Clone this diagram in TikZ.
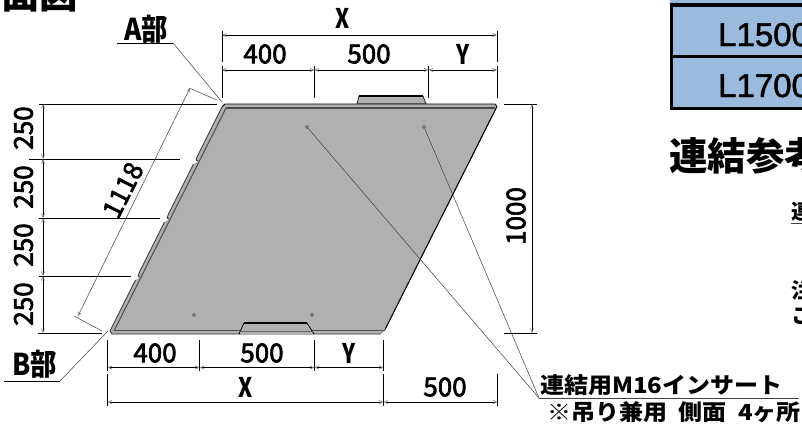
\documentclass[tikz,border=0pt]{standalone}
\usepackage{fontspec}
\usetikzlibrary{arrows.meta}
\setmainfont{Liberation Sans}
\newfontfamily\jp{Noto Sans CJK JP}
\newfontfamily\jpm{Noto Sans CJK JP}[FakeBold=2.5]
\newfontfamily\cellf{Liberation Sans}[FakeBold=1.5]
\definecolor{plate}{HTML}{B0B0B0}
\definecolor{cellblue}{HTML}{9ABBDD}
\definecolor{leaderc}{HTML}{404040}
\tikzset{
  dimline/.style={line width=0.75pt,black,{Straight Barb[length=3.5pt,width=3pt,color=gray]}-{Straight Barb[length=3.5pt,width=3pt,color=gray]}},
  extline/.style={line width=0.75pt,black},
  leader/.style={line width=0.5pt,leaderc},
  dimtext/.style={font=\jpm\fontsize{26}{26}\selectfont,inner sep=0pt},
  lettertext/.style={font=\jp\bfseries\fontsize{27}{27}\selectfont,inner sep=0pt,xscale=0.8},
  parttext/.style={font=\jp\bfseries\fontsize{30}{30}\selectfont,inner sep=0pt,xscale=0.88},
  callout/.style={font=\jp\bfseries\fontsize{24}{24}\selectfont,inner sep=0pt,anchor=base west,yscale=0.92},
  heading/.style={font=\jp\bfseries\fontsize{38.5}{38.5}\selectfont,inner sep=0pt,anchor=base west},
  cuttext/.style={font=\jp\bfseries\fontsize{21}{21}\selectfont,inner sep=0pt,anchor=base west},
  celltext/.style={font=\cellf\fontsize{33}{33}\selectfont,inner sep=0pt,anchor=base west},
  hole/.style={circle,draw=leaderc,fill=plate,line width=0.4pt,inner sep=0pt,minimum size=3pt}
}
\begin{document}
\begin{tikzpicture}[x=1pt,y=-1pt]
\clip (0,0) rectangle (802,428);
% table
\fill[cellblue] (670,0) rectangle (802,108);
\draw[line width=3.3pt,black] (802,5) -- (671.6,5) -- (671.6,108.3) -- (802,108.3);
\draw[line width=3.3pt,black] (671.6,56.7) -- (802,56.7);
\node[celltext] (l15) at (718,46) {L1500};
\node[celltext] (l17) at (718,97) {L1700};
% headings
\node[heading] (ttl) at (1,9) {面図};
\node[heading] (ref) at (669,170) {連結参考};
\node[cuttext] (c1) at (791,219) {連};
\draw[line width=0.6pt,leaderc] (791,223) -- (802,223);
\node[cuttext] (c2) at (791,298) {注};
\node[cuttext] (c3) at (791,323) {こ};
% plate
\draw[fill=plate,line width=0.8pt,draw=black!85] (359,96) -- (423,96) -- (426,104) -- (357,104) -- cycle;
\draw[line width=1.4pt] (359,96) -- (423,96);
\fill[plate] (225,104) -- (495,104) -- (497,106.5) -- (385,329.5) -- (380,334) -- (112,334) -- (110,331) -- (135.5,280) -- (140,277) -- (138,276) -- (139.5,272) -- (164.5,222) -- (169,219) -- (167,218) -- (168.5,214) -- (193.5,164) -- (198,161) -- (196,160) -- (197.5,156) -- (222,107) -- cycle;
\draw[line width=0.8pt,black] (222,107) -- (225,104) -- (495,104) -- (497,106.5);
\draw[line width=1.1pt,black] (497,106.5) -- (385,329.5);
\draw[line width=0.8pt,black!80] (222,107) -- (197.5,156) -- (196,160) -- (198,161);
\draw[line width=0.8pt,black!80] (193.5,164) -- (168.5,214) -- (167,218) -- (169,219);
\draw[line width=0.8pt,black!80] (164.5,222) -- (139.5,272) -- (138,276) -- (140,277);
\draw[line width=0.8pt,black!80] (135.5,280) -- (110,331) -- (112,334) -- (380,334);
\draw[line width=1.1pt,black!70] (226,108) -- (495,108);
\draw[line width=1pt,black!70] (226,108) -- (114,331);
\draw[line width=1.1pt,black!70] (114,330.5) -- (385,330.5);
\draw[line width=0.6pt,black!60] (380,334) -- (385,329.5);
% lower tab
\fill[plate] (239,334) -- (244,323) -- (307,323) -- (314,334) -- cycle;
\draw[line width=0.8pt,black] (239,334) -- (244,323);
\draw[line width=0.8pt,black] (307,323) -- (314,334);
\draw[line width=1.4pt,black] (244,323) -- (307,323);
\draw[line width=0.8pt,black!60] (239,331) -- (313,331);
% holes
\node[hole] (h1) at (307,127) {};
\node[hole] (h2) at (424,127) {};
\node[hole] (h3) at (194,315) {};
\node[hole] (h4) at (312,315) {};
% callout bottom right
\coordinate (ins) at (539,398);
\coordinate (insend) at (799,398);
\draw[leader] (h1) -- (ins);
\draw[leader] (h2) -- (ins);
\draw[leader] (ins) -- (insend);
\node[callout] (t1) at (540,393) {連結用M16インサート};
\node[callout] (t2) at (547,420) {※吊り兼用\hspace{6pt} 側面\hspace{6pt} 4ヶ所};
% A/B parts
\coordinate (a0) at (117,43); \coordinate (a1) at (173,43); \coordinate (a2) at (222,102);
\coordinate (b0) at (4,381); \coordinate (b1) at (60,381); \coordinate (b2) at (108,331);
\draw[extline] (a0) -- (a1);
\draw[leader] (a1) -- (a2);
\draw[extline] (b0) -- (b1);
\draw[leader] (b1) -- (b2);
\node[parttext] (pa) at (146,29) {A部};
\node[parttext] (pb) at (35,364.5) {B部};
% top dims
\draw[extline] (222,31) -- (222,62); \draw[extline] (222,66) -- (222,98);
\draw[extline] (497,31) -- (497,62); \draw[extline] (497,66) -- (497,98);
\draw[extline] (314.5,66) -- (314.5,98);
\draw[extline] (428.5,66) -- (428.5,98);
\draw[dimline] (222,35) -- (497,35);
\draw[dimline] (222,70) -- (314.5,70);
\draw[dimline] (314.5,70) -- (428.5,70);
\draw[dimline] (428.5,70) -- (497,70);
\node[lettertext] (tx) at (343,18) {X};
\node[dimtext] (t400) at (265,54) {400};
\node[dimtext] (t500) at (369,54) {500};
\node[lettertext] (ty) at (463,54) {Y};
% bottom dims
\draw[extline] (107.5,340) -- (107.5,371); \draw[extline] (107.5,374) -- (107.5,406);
\draw[extline] (199.5,340) -- (199.5,371);
\draw[extline] (314.5,340) -- (314.5,371);
\draw[extline] (383.5,340) -- (383.5,371); \draw[extline] (383.5,374) -- (383.5,406);
\draw[extline] (497.5,374) -- (497.5,406);
\draw[dimline] (107.5,367.5) -- (199.5,367.5);
\draw[dimline] (199.5,367.5) -- (314.5,367.5);
\draw[dimline] (314.5,367.5) -- (383.5,367.5);
\draw[dimline] (107.5,402) -- (383.5,402);
\draw[dimline] (383.5,402) -- (497.5,402);
\node[dimtext] (b400) at (155,353) {400};
\node[dimtext] (b500) at (262,353) {500};
\node[lettertext] (by) at (349,353) {Y};
\node[lettertext] (bx) at (246,387) {X};
\node[dimtext] (b5002) at (445,387) {500};
% left dims
\draw[extline] (39,104) -- (217,104);
\draw[extline] (29,159) -- (180,159);
\draw[extline] (39,218) -- (160,218);
\draw[extline] (39,276) -- (131,276);
\draw[extline] (38,333) -- (102,333);
\draw[dimline] (43,104) -- (43,159);
\draw[dimline] (43,159) -- (43,218);
\draw[dimline] (43,218) -- (43,276);
\draw[dimline] (43,276) -- (43,333);
\node[dimtext,rotate=90] (l1) at (23.5,128) {250};
\node[dimtext,rotate=90] (l2) at (23.5,187) {250};
\node[dimtext,rotate=90] (l3) at (23.5,245) {250};
\node[dimtext,rotate=90] (l4) at (23.5,304) {250};
% right dim
\draw[extline] (504,104) -- (537,104);
\draw[extline] (504,333) -- (537,333);
\draw[dimline] (532,104) -- (532,333);
\node[dimtext,rotate=90] (r1) at (516,216) {1000};
% slanted dim
\coordinate (s1) at (190,88); \coordinate (s2) at (78,316);
\draw[leader] (189,88) -- (217,100);
\draw[leader] (74,316) -- (102,331);
\draw[line width=0.5pt,leaderc,{Straight Barb[length=3.5pt,width=3pt,color=gray]}-{Straight Barb[length=3.5pt,width=3pt,color=gray]}] (s1) -- (s2);
\node[dimtext,rotate=63] (sl) at (123,190) {1118};
\end{tikzpicture}
\end{document}
